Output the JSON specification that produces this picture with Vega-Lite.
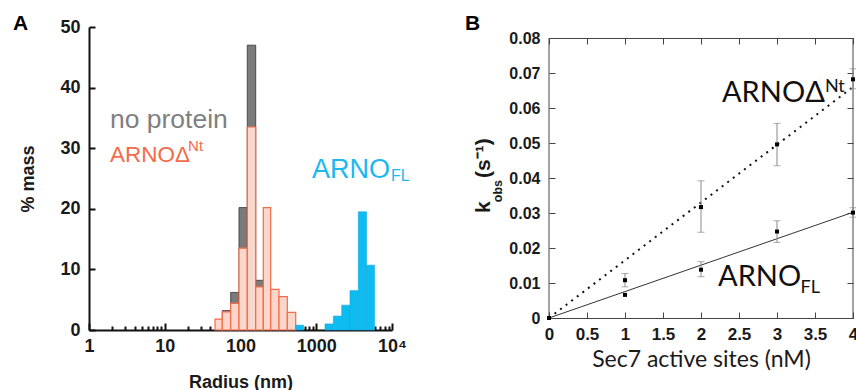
{
  "$schema": "https://vega.github.io/schema/vega-lite/v6.json",
  "background": "white",
  "padding": {"left": 13, "top": 12, "right": 0, "bottom": 0},
  "spacing": 55,
  "hconcat": [
    {
      "width": 303,
      "height": 303,
      "layer": [
        {
          "data": {"name": "np"},
          "mark": {"type": "bar", "fill": "#7b7b7b", "stroke": "#333", "strokeWidth": 0.8},
          "encoding": {
            "x": {"field": "r0", "type": "quantitative",
              "scale": {"type": "log", "domain": [1, 10000], "nice": false},
              "axis": {
                "values": [1,2,3,4,5,6,7,8,9,10,20,30,40,50,60,70,80,90,100,200,300,400,500,600,700,800,900,1000,2000,3000,4000,5000,6000,7000,8000,9000,10000],
                "format": "d",
                "labelExpr": "datum.value == 10000 ? '10⁴' : (indexof([1,10,100,1000], datum.value) >= 0 ? datum.label : '')",
                "tickSize": {"condition": {"test": "indexof([1,10,100,1000,10000], datum.value) >= 0", "value": -7}, "value": -4},
                "tickWidth": 2, "domainWidth": 2,
                "labelFontSize": 18, "labelFontWeight": "bold", "labelPadding": 14,
                "labelFlush": false, "labelOverlap": false,
                "title": "Radius (nm)", "titleFontSize": 18, "titleFontWeight": "bold", "titlePadding": 15
              }
            },
            "x2": {"field": "r1"},
            "y": {"field": "mass", "type": "quantitative",
              "scale": {"domain": [0, 50], "nice": false},
              "axis": {
                "values": [0, 10, 20, 30, 40, 50],
                "tickSize": -6, "tickWidth": 2, "domainWidth": 2,
                "labelFontSize": 18, "labelFontWeight": "bold", "labelPadding": 15,
                "title": "% mass", "titleFontSize": 18, "titleFontWeight": "bold", "titlePadding": 22
              }
            },
            "y2": {"datum": 0}
          }
        },
        {
          "data": {"name": "dnt"},
          "mark": {"type": "bar", "fill": "#fbd6ca", "stroke": "#f26b4a", "strokeWidth": 1.2},
          "encoding": {
            "x": {"field": "r0", "type": "quantitative"},
            "x2": {"field": "r1"},
            "y": {"field": "mass", "type": "quantitative"},
            "y2": {"datum": 0}
          }
        },
        {
          "data": {"name": "fl"},
          "mark": {"type": "bar", "fill": "#0dbdf2", "stroke": "#1aa6dc", "strokeWidth": 0.6},
          "encoding": {
            "x": {"field": "r0", "type": "quantitative"},
            "x2": {"field": "r1"},
            "y": {"field": "mass", "type": "quantitative"},
            "y2": {"datum": 0}
          }
        },
        {
          "data": {"name": "lab"},
          "mark": {"type": "text", "text": "A", "font": "Liberation Sans", "fontWeight": "bold", "fontSize": 21, "color": "#000", "align": "left", "baseline": "alphabetic"},
          "encoding": {"x": {"datum": 0.0993, "type": "quantitative"}, "y": {"datum": 49.5, "type": "quantitative"}}
        },
        {
          "data": {"name": "lab"},
          "mark": {"type": "text", "text": "no protein", "font": "Liberation Sans", "fontSize": 26.5, "color": "#7f7f7f", "align": "left", "baseline": "alphabetic"},
          "encoding": {"x": {"datum": 1.89, "type": "quantitative"}, "y": {"datum": 33.3, "type": "quantitative"}}
        },
        {
          "data": {"name": "lab"},
          "mark": {"type": "text", "text": "ARNOΔ", "font": "Liberation Sans", "fontSize": 22.5, "color": "#f26b4a", "align": "left", "baseline": "alphabetic"},
          "encoding": {"x": {"datum": 1.89, "type": "quantitative"}, "y": {"datum": 27.7, "type": "quantitative"}}
        },
        {
          "data": {"name": "lab"},
          "mark": {"type": "text", "text": "Nt", "font": "Liberation Sans", "fontSize": 15, "color": "#f26b4a", "align": "left", "baseline": "alphabetic"},
          "encoding": {"x": {"datum": 20.3, "type": "quantitative"}, "y": {"datum": 29.5, "type": "quantitative"}}
        },
        {
          "data": {"name": "lab"},
          "mark": {"type": "text", "text": "ARNO", "font": "Liberation Sans", "fontSize": 27, "color": "#1cb8ef", "align": "left", "baseline": "alphabetic"},
          "encoding": {"x": {"datum": 879, "type": "quantitative"}, "y": {"datum": 25.1, "type": "quantitative"}}
        },
        {
          "data": {"name": "lab"},
          "mark": {"type": "text", "text": "FL", "font": "Liberation Sans", "fontSize": 16, "color": "#1cb8ef", "align": "left", "baseline": "alphabetic"},
          "encoding": {"x": {"datum": 9700, "type": "quantitative"}, "y": {"datum": 24.6, "type": "quantitative"}}
        }
      ]
    },
    {
      "width": 304,
      "height": 291,
      "resolve": {"axis": {"x": "independent", "y": "independent"}},
      "layer": [
        {
          "data": {"name": "fitfl"},
          "mark": {"type": "line", "color": "#333", "strokeWidth": 1},
          "encoding": {
            "x": {"field": "conc", "type": "quantitative",
              "scale": {"domain": [0, 4], "nice": false},
              "axis": {"orient": "top", "offset": -11, "values": [0,0.5,1,1.5,2,2.5,3,3.5,4], "labels": false, "title": null, "tickSize": -6, "domainColor": "#444", "tickColor": "#444"}
            },
            "y": {"field": "k", "type": "quantitative",
              "scale": {"domain": [0, 0.0831429], "nice": false},
              "axis": {"orient": "right", "domain": false, "values": [0,0.01,0.02,0.03,0.04,0.05,0.06,0.07,0.08], "labels": false, "title": null, "tickSize": -6, "tickColor": "#444"}
            }
          }
        },
        {
          "data": {"name": "lab"},
          "mark": {"type": "rule", "color": "#444", "strokeWidth": 1},
          "encoding": {
            "x": {"datum": 0, "type": "quantitative", "axis": null},
            "y": {"datum": 0, "type": "quantitative", "axis": null},
            "y2": {"datum": 0.08}
          }
        },
        {
          "data": {"name": "lab"},
          "mark": {"type": "rule", "color": "#444", "strokeWidth": 1},
          "encoding": {
            "x": {"datum": 4, "type": "quantitative", "axis": null},
            "y": {"datum": 0, "type": "quantitative", "axis": null},
            "y2": {"datum": 0.08}
          }
        },
        {
          "data": {"name": "fitdnt"},
          "mark": {"type": "line", "color": "#111", "strokeWidth": 2, "strokeDash": [2, 5]},
          "encoding": {
            "x": {"field": "conc", "type": "quantitative", "axis": null},
            "y": {"field": "k", "type": "quantitative", "axis": null}
          }
        },
        {
          "data": {"name": "err"},
          "mark": {"type": "rule", "color": "#888", "strokeWidth": 1},
          "encoding": {
            "x": {"field": "conc", "type": "quantitative", "axis": null},
            "y": {"field": "lo", "type": "quantitative", "axis": null},
            "y2": {"field": "hi"}
          }
        },
        {
          "data": {"name": "err"},
          "mark": {"type": "tick", "orient": "horizontal", "color": "#888", "size": 7, "thickness": 1},
          "encoding": {
            "x": {"field": "conc", "type": "quantitative", "axis": null},
            "y": {"field": "lo", "type": "quantitative", "axis": null}
          }
        },
        {
          "data": {"name": "err"},
          "mark": {"type": "tick", "orient": "horizontal", "color": "#888", "size": 7, "thickness": 1},
          "encoding": {
            "x": {"field": "conc", "type": "quantitative", "axis": null},
            "y": {"field": "hi", "type": "quantitative", "axis": null}
          }
        },
        {
          "data": {"name": "kin"},
          "mark": {"type": "square", "color": "#000", "size": 16, "opacity": 1, "filled": true},
          "encoding": {
            "x": {"field": "conc", "type": "quantitative",
              "axis": {"values": [0,0.5,1,1.5,2,2.5,3,3.5,4], "format": "~g", "tickSize": -6, "domainColor": "#444", "tickColor": "#444",
                "labelFontSize": 17, "labelFontWeight": "bold", "labelPadding": 14, "labelFlush": false, "labelOverlap": false,
                "title": "Sec7 active sites (nM)", "titleFont": "Lato", "titleFontWeight": "normal", "titleFontSize": 23, "titlePadding": 6}
            },
            "y": {"field": "k", "type": "quantitative",
              "axis": {"values": [0,0.01,0.02,0.03,0.04,0.05,0.06,0.07,0.08], "labelExpr": "datum.value == 0 ? '0' : format(datum.value, '.2f')",
                "domain": false, "tickSize": -6, "tickColor": "#444",
                "labelFontSize": 16, "labelFontWeight": "bold", "labelPadding": 15, "labelOverlap": false, "title": null}
            }
          }
        },
        {
          "data": {"name": "lab"},
          "mark": {"type": "text", "text": "B", "font": "Liberation Sans", "fontWeight": "bold", "fontSize": 21, "color": "#000", "align": "left", "baseline": "alphabetic"},
          "encoding": {"x": {"datum": -1.105, "type": "quantitative", "axis": null}, "y": {"datum": 0.0823, "type": "quantitative", "axis": null}}
        },
        {
          "data": {"name": "lab"},
          "mark": {"type": "text", "text": "ARNOΔ", "font": "Lato", "fontSize": 29, "color": "#111", "align": "left", "baseline": "alphabetic"},
          "encoding": {"x": {"datum": 2.276, "type": "quantitative", "axis": null}, "y": {"datum": 0.0617, "type": "quantitative", "axis": null}}
        },
        {
          "data": {"name": "lab"},
          "mark": {"type": "text", "text": "Nt", "font": "Lato", "fontSize": 18, "color": "#111", "align": "left", "baseline": "alphabetic"},
          "encoding": {"x": {"datum": 3.63, "type": "quantitative", "axis": null}, "y": {"datum": 0.0645, "type": "quantitative", "axis": null}}
        },
        {
          "data": {"name": "lab"},
          "mark": {"type": "text", "text": "ARNO", "font": "Lato", "fontSize": 29, "color": "#111", "align": "left", "baseline": "alphabetic"},
          "encoding": {"x": {"datum": 2.224, "type": "quantitative", "axis": null}, "y": {"datum": 0.0091, "type": "quantitative", "axis": null}}
        },
        {
          "data": {"name": "lab"},
          "mark": {"type": "text", "text": "FL", "font": "Lato", "fontSize": 18, "color": "#111", "align": "left", "baseline": "alphabetic"},
          "encoding": {"x": {"datum": 3.31, "type": "quantitative", "axis": null}, "y": {"datum": 0.0072, "type": "quantitative", "axis": null}}
        },
        {
          "data": {"name": "lab"},
          "mark": {"type": "text", "text": "k", "font": "Liberation Sans", "fontWeight": "bold", "fontSize": 21, "angle": 270, "color": "#1a1a1a", "align": "left", "baseline": "alphabetic"},
          "encoding": {"x": {"datum": -0.776, "type": "quantitative", "axis": null}, "y": {"datum": 0.03, "type": "quantitative", "axis": null}}
        },
        {
          "data": {"name": "lab"},
          "mark": {"type": "text", "text": "obs", "font": "Liberation Sans", "fontWeight": "bold", "fontSize": 12.5, "angle": 270, "color": "#1a1a1a", "align": "left", "baseline": "alphabetic"},
          "encoding": {"x": {"datum": -0.618, "type": "quantitative", "axis": null}, "y": {"datum": 0.0331, "type": "quantitative", "axis": null}}
        },
        {
          "data": {"name": "lab"},
          "mark": {"type": "text", "text": "(s⁻¹)", "font": "Liberation Sans", "fontWeight": "bold", "fontSize": 21, "angle": 270, "color": "#1a1a1a", "align": "left", "baseline": "alphabetic"},
          "encoding": {"x": {"datum": -0.776, "type": "quantitative", "axis": null}, "y": {"datum": 0.04, "type": "quantitative", "axis": null}}
        }
      ]
    }
  ],
  "config": {
    "view": {"stroke": null},
    "font": "Liberation Sans",
    "axis": {"grid": false, "domainColor": "#111", "tickColor": "#111", "labelColor": "#1a1a1a", "titleColor": "#1a1a1a"}
  },
  "datasets": {
    "np": [
      {"r0": 57.5, "r1": 74.2, "mass": 3.2},
      {"r0": 74.2, "r1": 95.5, "mass": 6.2},
      {"r0": 95.5, "r1": 122.9, "mass": 20.2},
      {"r0": 122.9, "r1": 158.8, "mass": 47.0},
      {"r0": 158.8, "r1": 200.0, "mass": 8.2}
    ],
    "dnt": [
      {"r0": 46.1, "r1": 57.5, "mass": 1.8},
      {"r0": 57.5, "r1": 74.2, "mass": 3.0},
      {"r0": 74.2, "r1": 95.5, "mass": 4.4},
      {"r0": 95.5, "r1": 122.9, "mass": 13.5},
      {"r0": 122.9, "r1": 158.8, "mass": 33.5},
      {"r0": 158.8, "r1": 200.0, "mass": 7.1},
      {"r0": 200.0, "r1": 250.4, "mass": 20.2},
      {"r0": 250.4, "r1": 322.3, "mass": 6.7},
      {"r0": 322.3, "r1": 414.8, "mass": 5.5},
      {"r0": 414.8, "r1": 535.5, "mass": 2.9}
    ],
    "fl": [
      {"r0": 535.5, "r1": 678.6, "mass": 0.8},
      {"r0": 1305, "r1": 1680, "mass": 1.0},
      {"r0": 1680, "r1": 2168, "mass": 2.3},
      {"r0": 2168, "r1": 2790, "mass": 4.1},
      {"r0": 2790, "r1": 3590, "mass": 6.5},
      {"r0": 3590, "r1": 4607, "mass": 19.5},
      {"r0": 4607, "r1": 5875, "mass": 10.7}
    ],
    "kin": [
      {"series": "ARNOdNt", "conc": 0, "k": 0},
      {"series": "ARNOdNt", "conc": 1, "k": 0.0108},
      {"series": "ARNOdNt", "conc": 2, "k": 0.0317},
      {"series": "ARNOdNt", "conc": 3, "k": 0.0496},
      {"series": "ARNOdNt", "conc": 4, "k": 0.0682},
      {"series": "ARNOFL", "conc": 0, "k": 0},
      {"series": "ARNOFL", "conc": 1, "k": 0.0066},
      {"series": "ARNOFL", "conc": 2, "k": 0.0138},
      {"series": "ARNOFL", "conc": 3, "k": 0.0247},
      {"series": "ARNOFL", "conc": 4, "k": 0.0301}
    ],
    "err": [
      {"series": "ARNOdNt", "conc": 1, "lo": 0.0089, "hi": 0.0127},
      {"series": "ARNOdNt", "conc": 2, "lo": 0.0245, "hi": 0.0392},
      {"series": "ARNOdNt", "conc": 3, "lo": 0.0435, "hi": 0.0556},
      {"series": "ARNOdNt", "conc": 4, "lo": 0.0655, "hi": 0.0712},
      {"series": "ARNOFL", "conc": 2, "lo": 0.0118, "hi": 0.0161},
      {"series": "ARNOFL", "conc": 3, "lo": 0.0216, "hi": 0.0278},
      {"series": "ARNOFL", "conc": 4, "lo": 0.0288, "hi": 0.0315}
    ],
    "fitdnt": [
      {"conc": 0, "k": 0},
      {"conc": 4, "k": 0.066}
    ],
    "fitfl": [
      {"conc": 0, "k": 0},
      {"conc": 4, "k": 0.0302}
    ],
    "lab": [{"name": "label"}]
  }
}
